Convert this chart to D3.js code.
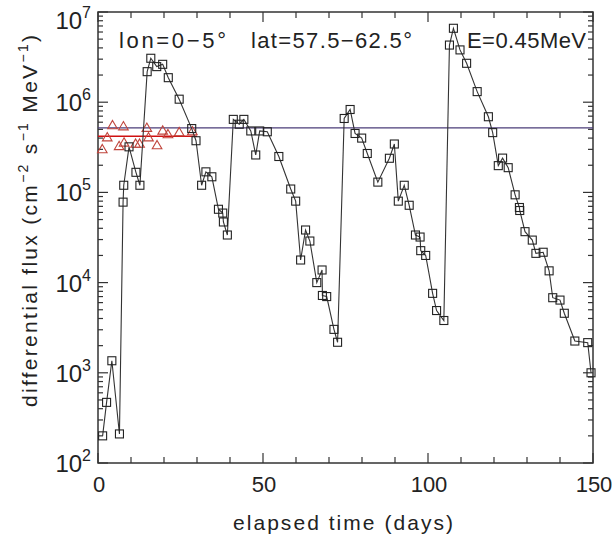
<!DOCTYPE html>
<html>
<head>
<meta charset="utf-8">
<script src="https://cdn.jsdelivr.net/npm/d3@7"></script>
<style>
  body { margin: 0; background: #fff; }
  text { font-family: "Liberation Sans", Arial, sans-serif; fill: #222; }
</style>
</head>
<body>
<div id="chart"></div>
<script>
// flux time series (squares)
const days = [1.4, 2.6, 4.2, 6.5, 7.6, 7.8, 9.4, 11.5, 12.7, 14.9, 16.0, 17.8, 19.6, 21.3, 24.6, 28.4, 29.7,
  31.4, 32.7, 34.5, 36.5, 37.8, 38.0, 39.2, 41.0, 42.8, 44.2, 46.3, 47.8, 49.0, 51.3, 54.8, 58.4, 59.9,
  61.4, 62.9, 64.2, 66.3, 67.9, 68.0, 69.3, 71.5, 72.6, 74.6, 76.4, 77.9, 79.9, 81.6, 84.8, 88.3, 89.8,
  91.0, 92.8, 94.3, 96.2, 97.6, 97.8, 99.3, 101.4, 102.6, 104.8, 106.5, 107.7, 109.7, 111.7, 114.9,
  118.3, 119.6, 121.3, 122.6, 124.3, 126.4, 127.7, 127.8, 129.4, 131.6, 132.7, 134.9, 136.7, 137.8,
  140.0, 141.3, 144.5, 148.4, 149.4];
const flux = [200, 470, 1360, 210, 7.8e4, 1.2e5, 3.2e5, 1.67e5, 1.2e5, 2.18e6, 3.07e6, 2.48e6, 2.63e6, 1.87e6, 1.08e6, 5.1e5, 3.74e5,
  1.2e5, 1.69e5, 1.49e5, 6.5e4, 5.9e4, 4.7e4, 3.37e4, 6.45e5, 5.7e5, 6.45e5, 4.8e5, 2.6e5, 4.8e5, 4.7e5, 2.5e5, 1.09e5, 8.0e4,
  1.78e4, 3.83e4, 2.89e4, 1.0e4, 1.38e4, 7.2e3, 7.0e3, 3.03e3, 2.18e3, 6.6e5, 8.3e5, 4.5e5, 4.0e5, 2.7e5, 1.3e5, 2.39e5, 3.44e5,
  8.0e4, 1.2e5, 7.2e4, 3.37e4, 3.2e4, 2.26e4, 2.0e4, 7.6e3, 4.9e3, 3.8e3, 4.3e6, 6.6e6, 3.8e6, 2.7e6, 1.31e6,
  6.9e5, 4.6e5, 1.98e5, 2.4e5, 1.88e5, 9.4e4, 6.8e4, 6.3e4, 3.67e4, 2.96e4, 2.11e4, 2.17e4, 1.35e4, 6.8e3,
  6.4e3, 4.57e3, 2.25e3, 2.16e3, 1.0e3];

// reference points (red triangles)
const triDays = [1.3, 2.8, 4.4, 6.4, 7.7, 7.9, 11.4, 12.6, 14.8, 15.3, 17.9, 19.6, 21.2, 24.6, 28.6];
const triFlux = [2.95e5, 4.0e5, 5.45e5, 3.2e5, 5.3e5, 3.5e5, 3.4e5, 3.4e5, 5.1e5, 4.0e5, 3.27e5, 4.75e5, 4.33e5, 4.56e5, 4.67e5];

const refLevel = 5.2e5;           // purple line across the plot
const redLevel = 4.2e5;           // red mean line
const redSpan = [0, 30];

const xTicks = [0, 50, 100, 150];
const yDecades = [2, 3, 4, 5, 6, 7];
const labels = ["lon=0\u22125\u00b0", "lat=57.5\u221262.5\u00b0", "E=0.45MeV"];

const width = 615, height = 538;
const margin = { top: 12, right: 22, bottom: 75, left: 98 };

const svg = d3.select("#chart").append("svg")
  .attr("width", width)
  .attr("height", height);

const x = d3.scaleLinear().domain([0, 150]).range([margin.left, width - margin.right]);
const y = d3.scaleLog().domain([1e2, 1e7]).range([height - margin.bottom, margin.top]);

const x0 = margin.left, x1 = width - margin.right;
const y0 = height - margin.bottom, y1 = margin.top;
const axisColor = "#333";

// ticks, inward on all four sides
const g = svg.append("g").attr("stroke", axisColor).attr("stroke-width", 1.2);
d3.range(0, 151, 10).forEach(v => {
  const len = v % 50 === 0 ? 10 : 6;
  g.append("line").attr("x1", x(v)).attr("x2", x(v)).attr("y1", y0).attr("y2", y0 - len);
  g.append("line").attr("x1", x(v)).attr("x2", x(v)).attr("y1", y1).attr("y2", y1 + len);
});
yDecades.forEach(e => {
  for (let m = 1; m <= 9; m++) {
    const v = m * Math.pow(10, e);
    if (v > 1e7) break;
    const len = m === 1 ? 10 : 5;
    g.append("line").attr("x1", x0).attr("x2", x0 + len).attr("y1", y(v)).attr("y2", y(v));
    g.append("line").attr("x1", x1).attr("x2", x1 - len).attr("y1", y(v)).attr("y2", y(v));
  }
});

// frame
svg.append("rect")
  .attr("x", x0).attr("y", y1)
  .attr("width", x1 - x0).attr("height", y0 - y1)
  .attr("fill", "none").attr("stroke", axisColor).attr("stroke-width", 1.5);

// x tick labels
svg.selectAll(".xl").data(xTicks).enter().append("text")
  .attr("x", d => x(d) + 1).attr("y", y0 + 29)
  .attr("text-anchor", "middle").attr("font-size", 22)
  .text(d => d);

// y tick labels 10^n
yDecades.forEach(e => {
  const t = svg.append("text")
    .attr("x", x0 - 7).attr("y", Math.max(y(Math.pow(10, e)) + 9, 29))
    .attr("text-anchor", "end").attr("font-size", 24);
  t.append("tspan").text("10");
  t.append("tspan").attr("font-size", 16).attr("dy", -11).text(e);
});

// axis titles
svg.append("text")
  .attr("x", 343).attr("y", 530)
  .attr("text-anchor", "middle").attr("font-size", 21)
  .attr("textLength", 220).attr("lengthAdjust", "spacing")
  .text("elapsed time (days)");

const yt = svg.append("text")
  .attr("transform", "translate(37,221) rotate(-90)")
  .attr("text-anchor", "middle").attr("font-size", 21)
  .attr("textLength", 372).attr("lengthAdjust", "spacing");
yt.append("tspan").text("differential flux (cm");
yt.append("tspan").attr("font-size", 14).attr("dy", -9).text("\u22122");
yt.append("tspan").attr("dy", 9).text(" s");
yt.append("tspan").attr("font-size", 14).attr("dy", -9).text("\u22121");
yt.append("tspan").attr("dy", 9).text(" MeV");
yt.append("tspan").attr("font-size", 14).attr("dy", -9).text("\u22121");
yt.append("tspan").attr("dy", 9).text(")");

// reference lines
svg.append("line")
  .attr("x1", x(0)).attr("x2", x(150))
  .attr("y1", y(refLevel)).attr("y2", y(refLevel))
  .attr("stroke", "#4b3c78").attr("stroke-width", 1.2);
svg.append("line")
  .attr("x1", x(redSpan[0])).attr("x2", x(redSpan[1]))
  .attr("y1", y(redLevel)).attr("y2", y(redLevel))
  .attr("stroke", "#d01010").attr("stroke-width", 1.5);

// red triangles
const tri = d3.symbol().type(d3.symbolTriangle).size(40);
svg.selectAll(".tri").data(triDays).enter().append("path")
  .attr("d", tri)
  .attr("transform", (d, i) => `translate(${x(d)},${y(triFlux[i])})`)
  .attr("fill", "none").attr("stroke", "#c0453c").attr("stroke-width", 1.1);

// flux line
const pts = days.map((d, i) => [d, flux[i]]);
svg.append("path")
  .datum(pts)
  .attr("d", d3.line().x(d => x(d[0])).y(d => y(d[1])))
  .attr("fill", "none").attr("stroke", "#333").attr("stroke-width", 1.1);

// square markers
svg.selectAll(".sq").data(pts).enter().append("rect")
  .attr("x", d => x(d[0]) - 4).attr("y", d => y(d[1]) - 4)
  .attr("width", 8).attr("height", 8)
  .attr("fill", "none").attr("stroke", "#222").attr("stroke-width", 1.1);

// annotation text
const annX = [119, 251, 467];
const annW = [107, 161, 119];
labels.forEach((s, i) => {
  svg.append("text").attr("x", annX[i]).attr("y", 48).attr("font-size", 22)
    .attr("textLength", annW[i]).attr("lengthAdjust", "spacing")
    .text(s);
});
</script>
</body>
</html>
